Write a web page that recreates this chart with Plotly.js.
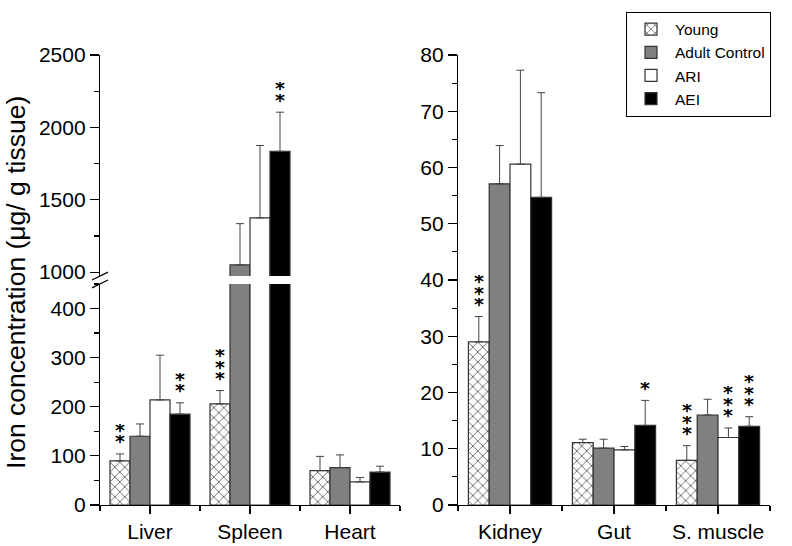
<!DOCTYPE html>
<html>
<head>
<meta charset="utf-8">
<script src="https://cdn.plot.ly/plotly-3.0.1.min.js"></script>
<style>html,body{margin:0;padding:0;background:#fff;}#chart{width:792px;height:546px;}</style>
</head>
<body>
<div id="chart"></div>
<script>
// ---------- data ----------
const seriesNames = ["Young", "Adult Control", "ARI", "AEI"];
const organsLeft = ["Liver", "Spleen", "Heart"];
const organsRight = ["Kidney", "Gut", "S. muscle"];

// Left panel (µg/g tissue)
const youngLeft = [90, 206, 70];
const adultLeft = [140, 1050, 76];
const ariLeft   = [214, 1375, 47];
const aeiLeft   = [185, 1835, 67];
const youngLeftErr = [14, 27, 29];
const adultLeftErr = [25, 285, 26];
const ariLeftErr   = [91, 500, 9];
const aeiLeftErr   = [23, 270, 12];

// Right panel
const youngRight = [29.0, 11.1, 7.95];
const adultRight = [57.1, 10.1, 16.0];
const ariRight   = [60.6, 9.8, 12.0];
const aeiRight   = [54.7, 14.15, 14.0];
const youngRightErr = [4.5, 0.6, 2.6];
const adultRightErr = [6.8, 1.6, 2.8];
const ariRightErr   = [16.7, 0.6, 1.7];
const aeiRightErr   = [18.6, 4.45, 1.7];

// significance stars (count per bar)
const youngLeftSig = [2, 3, 0];
const adultLeftSig = [0, 0, 0];
const ariLeftSig   = [0, 0, 0];
const aeiLeftSig   = [2, 2, 0];
const youngRightSig = [3, 0, 3];
const adultRightSig = [0, 0, 0];
const ariRightSig   = [0, 0, 3];
const aeiRightSig   = [0, 1, 3];

// left axis tick labels
const lowerTicks = [0, 100, 200, 300, 400];
const upperTicks = [1000, 1500, 2000, 2500];

// ---------- build ----------
const FONT = "Arial, 'Liberation Sans', sans-serif";
const W = 792, H = 546, ML = 100, MR = 22, MT = 49, MB = 41;
const PW = W - ML - MR, PH = H - MT - MB;
const px = v => (v - ML) / PW;
const py = v => (H - MB - v) / PH;

const styles = [
  {color: "#ffffff", pattern: {shape: "x", size: 7, solidity: 0.15, fgcolor: "#000000", bgcolor: "#ffffff"}},
  {color: "#808080"},
  {color: "#ffffff"},
  {color: "#000000"}
];
const leftVals = [youngLeft, adultLeft, ariLeft, aeiLeft];
const leftErrs = [youngLeftErr, adultLeftErr, ariLeftErr, aeiLeftErr];
const rightVals = [youngRight, adultRight, ariRight, aeiRight];
const rightErrs = [youngRightErr, adultRightErr, ariRightErr, aeiRightErr];
const leftSig = [youngLeftSig, adultLeftSig, ariLeftSig, aeiLeftSig];
const rightSig = [youngRightSig, adultRightSig, ariRightSig, aeiRightSig];

const idxL = organsLeft.map((_, i) => i);
const idxR = organsRight.map((_, i) => i);

function barTrace(name, i, xs, ys, errs, xa, ya, showlegend) {
  return {
    type: "bar", name: name, x: xs, y: ys, xaxis: xa, yaxis: ya,
    showlegend: showlegend,
    marker: Object.assign({line: {color: "#333333", width: 1.2}}, styles[i]),
    error_y: {type: "data", symmetric: false, array: errs, arrayminus: errs.map(() => 0),
              color: "#444444", thickness: 1, width: 4}
  };
}

const data = [];
seriesNames.forEach((n, i) => data.push(barTrace(n, i, idxL, leftVals[i], leftErrs[i], "x", "y", true)));
seriesNames.forEach((n, i) => data.push(barTrace(n, i, idxL, leftVals[i], leftErrs[i], "x", "y2", false)));
seriesNames.forEach((n, i) => data.push(barTrace(n, i, idxR, rightVals[i], rightErrs[i], "x2", "y3", false)));

const lowerMax = 450, upperMin = 973;
const offsets = [-0.3, -0.1, 0.1, 0.3];
const annotations = [];
function addStars(sig, vals, errs, xa, yaFn) {
  sig.forEach((row, s) => row.forEach((count, c) => {
    const top = vals[s][c] + errs[s][c];
    for (let k = 0; k < count; k++) {
      annotations.push({
        x: c + offsets[s], y: top, xref: xa, yref: yaFn(top),
        text: "*", showarrow: false, xanchor: "center", yanchor: "middle",
        height: 11, valign: "middle", borderpad: 0,
        yshift: 13 + k * 11.5,
        font: {family: "'DejaVu Sans', sans-serif", size: 19, weight: "bold", color: "#000"}
      });
    }
  }));
}
addStars(leftSig, leftVals, leftErrs, "x", t => (t > lowerMax ? "y2" : "y"));
addStars(rightSig, rightVals, rightErrs, "x2", () => "y3");

annotations.push({
  text: "Iron concentration (μg/ g tissue)", textangle: -90,
  xref: "paper", yref: "paper", x: px(16), y: py(280),
  xanchor: "center", yanchor: "middle",
  showarrow: false, font: {family: FONT, size: 26.5, color: "#000"}
});

const axisCommon = {
  showline: true, linecolor: "#000", linewidth: 1.2, ticks: "outside",
  tickcolor: "#000", tickwidth: 1.2, showgrid: false, zeroline: false,
  tickfont: {family: FONT, size: 21, color: "#000"}, fixedrange: true
};

const layout = {
  width: W, height: H,
  margin: {l: ML, r: MR, t: MT, b: MB},
  paper_bgcolor: "#fff", plot_bgcolor: "rgba(0,0,0,0)",
  barmode: "group", bargap: 0.2, bargroupgap: 0,
  font: {family: FONT, color: "#000"},
  xaxis: Object.assign({}, axisCommon, {
    domain: [0, px(400)], range: [-0.5, 2.5], anchor: "y",
    tickmode: "array", tickvals: idxL, ticktext: organsLeft, ticklen: 8,
    minor: {tick0: -0.5, dtick: 1, ticklen: 5, ticks: "outside", tickcolor: "#000", tickwidth: 1.2}
  }),
  yaxis: Object.assign({}, axisCommon, {
    domain: [0, py(281)], range: [0, lowerMax], anchor: "x",
    tickmode: "array", tickvals: lowerTicks, ticklen: 9,
    minor: {dtick: 50, ticklen: 5, ticks: "outside", tickcolor: "#000", tickwidth: 1.2}
  }),
  yaxis2: Object.assign({}, axisCommon, {
    domain: [py(273), 1], range: [upperMin, 2500], anchor: "x",
    tickmode: "array", tickvals: upperTicks, ticklen: 9,
    minor: {tickmode: "array", tickvals: [1250, 1750, 2250], ticklen: 5, ticks: "outside", tickcolor: "#000", tickwidth: 1.2}
  }),
  xaxis2: Object.assign({}, axisCommon, {
    domain: [px(458), 1], range: [-0.5, 2.5], anchor: "y3",
    tickmode: "array", tickvals: idxR, ticktext: organsRight, ticklen: 8,
    minor: {tick0: -0.5, dtick: 1, ticklen: 5, ticks: "outside", tickcolor: "#000", tickwidth: 1.2}
  }),
  yaxis3: Object.assign({}, axisCommon, {
    domain: [0, 1], range: [0, 80], anchor: "x2",
    dtick: 10, ticklen: 9,
    minor: {dtick: 5, ticklen: 5, ticks: "outside", tickcolor: "#000", tickwidth: 1.2}
  }),
  legend: {
    x: px(626), y: py(5), xanchor: "left", yanchor: "top",
    bordercolor: "#000", borderwidth: 1, bgcolor: "#fff",
    font: {family: FONT, size: 15.5, color: "#000"},
    tracegroupgap: 0, itemwidth: 38
  },
  annotations: annotations,
  shapes: [
    {type: "line", xref: "paper", yref: "paper", x0: px(92), y0: py(277), x1: px(108), y1: py(269), line: {color: "#000", width: 1.2}},
    {type: "line", xref: "paper", yref: "paper", x0: px(92), y0: py(285), x1: px(108), y1: py(277), line: {color: "#000", width: 1.2}}
  ]
};

Plotly.newPlot("chart", data, layout, {displayModeBar: false, staticPlot: true});
</script>
</body>
</html>
